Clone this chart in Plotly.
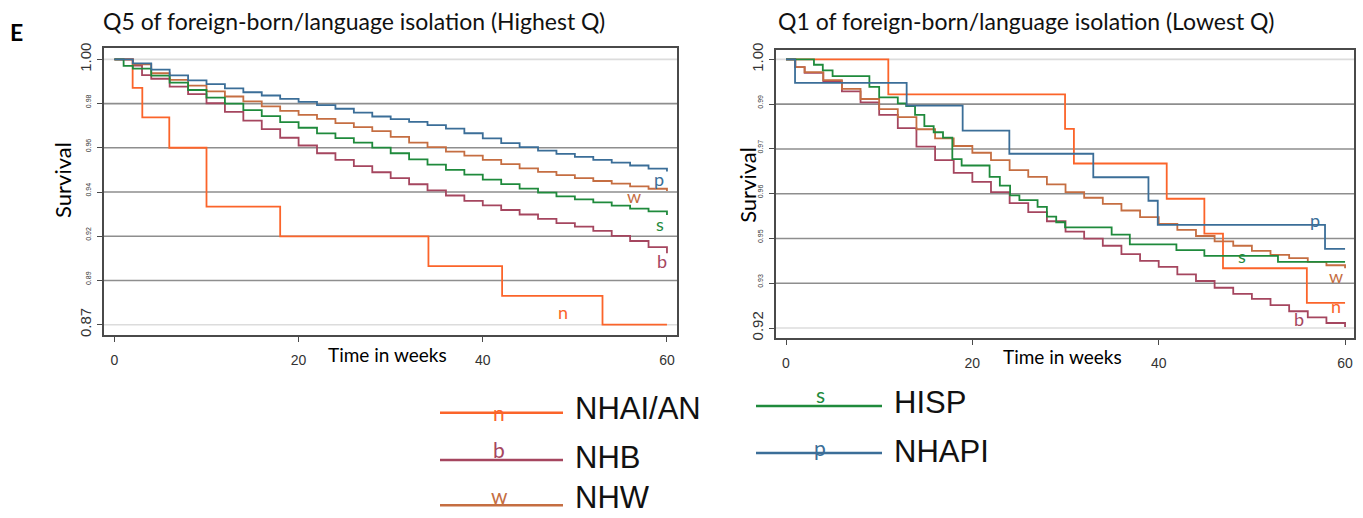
import plotly.graph_objects as go

# ---------------- data ----------------
groups = ["NHAI/AN", "NHB", "NHW", "HISP", "NHAPI"]
letters = ["n", "b", "w", "s", "p"]
colors = ["#fb642a", "#a5465f", "#c56e42", "#1f8a3c", "#3b6e98"]

# Left panel: Q5 (highest quintile)
L_n_t = [0, 1.98, 3.03, 5.96, 10.0, 18.0, 34.1, 42.1, 53.0, 60]
L_n_v = [1.0, 0.986, 0.9716, 0.9567, 0.9278, 0.9133, 0.8987, 0.8841, 0.870, 0.870]

L_b_t = [0, 2, 3, 4, 6, 8, 10, 12, 14, 16, 18, 20, 22, 24, 26, 28, 30, 32, 34, 36,
         38, 40, 42, 44, 46, 48, 50, 52, 54, 56, 58, 60]
L_b_v = [1.0, 0.9970, 0.9923, 0.9905, 0.9866, 0.9830, 0.9785, 0.9743, 0.9700, 0.9658,
         0.9616, 0.9578, 0.9540, 0.9508, 0.9477, 0.9447, 0.9418, 0.9388, 0.9358, 0.9333,
         0.9307, 0.9285, 0.9262, 0.9240, 0.9218, 0.9198, 0.9180, 0.9160, 0.9135, 0.9110,
         0.9080, 0.9050]

L_w_t = [0, 2, 4, 6, 8, 10, 12, 14, 16, 18, 20, 22, 24, 26, 28, 30, 32, 34, 36, 38,
         40, 42, 44, 46, 48, 50, 52, 54, 56, 58, 60]
L_w_v = [1.0, 0.9975, 0.9932, 0.9900, 0.9871, 0.9843, 0.9818, 0.9794, 0.9770, 0.9748,
         0.9728, 0.9708, 0.9688, 0.9668, 0.9648, 0.9620, 0.9592, 0.9570, 0.9548, 0.9528,
         0.9508, 0.9487, 0.9466, 0.9449, 0.9433, 0.9418, 0.9404, 0.9391, 0.9378, 0.9366,
         0.9355]

L_s_t = [0, 1, 2, 4, 6, 8, 10, 12, 14, 16, 18, 20, 22, 24, 26, 28, 30, 32, 34, 36,
         38, 40, 42, 44, 46, 48, 50, 52, 54, 56, 58, 60]
L_s_v = [1.0, 0.9968, 0.9955, 0.9920, 0.9886, 0.9850, 0.9813, 0.9783, 0.9751, 0.9722,
         0.9693, 0.9665, 0.9637, 0.9614, 0.9592, 0.9568, 0.9540, 0.9510, 0.9484, 0.9459,
         0.9435, 0.9411, 0.9389, 0.9367, 0.9347, 0.9329, 0.9314, 0.9299, 0.9283, 0.9269,
         0.9255, 0.9237]

L_p_t = [0, 2, 4, 6, 8, 10, 12, 14, 16, 18, 20, 22, 24, 26, 28, 30, 32, 34, 36, 38,
         40, 42, 44, 46, 48, 50, 52, 54, 56, 58, 60]
L_p_v = [1.0, 0.9980, 0.9950, 0.9922, 0.9897, 0.9879, 0.9858, 0.9839, 0.9823, 0.9806,
         0.9792, 0.9776, 0.9758, 0.9739, 0.9720, 0.9707, 0.9694, 0.9678, 0.9661, 0.9638,
         0.9613, 0.9590, 0.9570, 0.9553, 0.9537, 0.9522, 0.9508, 0.9494, 0.9480, 0.9465,
         0.9451]

# Right panel: Q1 (lowest quintile)
R_n_t = [0, 10.98, 29.95, 30.9, 40.86, 44.9, 46.9, 55.9, 60]
R_n_v = [1.0, 0.9896, 0.9793, 0.9690, 0.9585, 0.9481, 0.9378, 0.9275, 0.9275]

R_b_t = [0, 1, 2, 4, 6, 8, 10, 12, 14, 16, 18, 20, 22, 24, 26, 28, 30, 32, 34, 36,
         38, 40, 42, 44, 46, 48, 50, 52, 54, 56, 58, 60]
R_b_v = [1.0, 0.9977, 0.9960, 0.9935, 0.9905, 0.9872, 0.9835, 0.9795, 0.9740, 0.9700,
         0.9662, 0.9635, 0.9605, 0.9572, 0.9545, 0.9518, 0.9487, 0.9466, 0.9445, 0.9420,
         0.9400, 0.9382, 0.9360, 0.9340, 0.9320, 0.9302, 0.9287, 0.9268, 0.9250, 0.9232,
         0.9215, 0.9203]

R_w_t = [0, 1, 2, 4, 6, 8, 10, 12, 14, 16, 18, 20, 22, 24, 26, 28, 30, 32, 34, 36,
         38, 40, 42, 44, 46, 48, 50, 52, 54, 56, 58, 60]
R_w_v = [1.0, 0.9977, 0.9962, 0.9938, 0.9912, 0.9882, 0.9852, 0.9828, 0.9792, 0.9765,
         0.9742, 0.9722, 0.9700, 0.9670, 0.9650, 0.9628, 0.9605, 0.9588, 0.9570, 0.9550,
         0.9530, 0.9510, 0.9492, 0.9474, 0.9458, 0.9445, 0.9430, 0.9418, 0.9408, 0.9397,
         0.9387, 0.9378]

R_s_t = [0, 3.0, 3.95, 5.0, 8.95, 10.0, 12.0, 12.9, 13.85, 14.85, 15.85, 16.85, 17.85,
         18.85, 21.85, 22.95, 24.05, 25.05, 27.0, 28.0, 29.0, 29.95, 34.95, 36.9, 41.9,
         44.9, 52.8, 60]
R_s_v = [1.0, 0.9984, 0.9967, 0.9950, 0.9918, 0.9887, 0.9869, 0.9861, 0.9835, 0.9801,
         0.9783, 0.9767, 0.9703, 0.9684, 0.9650, 0.9624, 0.9595, 0.9581, 0.9561, 0.9532,
         0.9515, 0.9500, 0.9478, 0.9449, 0.9432, 0.9415, 0.9397, 0.9397]

R_p_t = [0, 0.97, 12.95, 18.96, 23.97, 32.98, 38.9, 39.9, 57.85, 60]
R_p_v = [1.0, 0.9930, 0.9862, 0.9788, 0.9719, 0.9649, 0.9579, 0.9507, 0.9436, 0.9436]

# axis ticks (evenly spaced, labelled as in the picture)
x_ticks = [0, 20, 40, 60]
L_tickvals = [0.87, 0.89167, 0.91333, 0.935, 0.95667, 0.97833, 1.0]
L_ticktext = ["0.87", "0.89", "0.92", "0.94", "0.96", "0.98", "1.00"]
R_tickvals = [0.92, 0.93333, 0.94667, 0.96, 0.97333, 0.98667, 1.0]
R_ticktext = ["0.92", "0.93", "0.95", "0.96", "0.97", "0.99", "1.00"]

titles = ["Q5 of foreign-born/language isolation (Highest Q)",
          "Q1 of foreign-born/language isolation (Lowest Q)"]

# ---------------- figure ----------------
W, H = 1363, 518
FONT = "Lato, 'Open Sans', sans-serif"
ARIAL = "'Liberation Sans Narrow', 'Liberation Sans', Arial, sans-serif"

L_xrange = [-1.13, 61.09]
L_yrange = [0.86485, 1.00544]
R_xrange = [-1.073, 60.96]
R_yrange = [0.91699, 1.00287]

fig = go.Figure()

left = [(L_n_t, L_n_v), (L_b_t, L_b_v), (L_w_t, L_w_v), (L_s_t, L_s_v), (L_p_t, L_p_v)]
right = [(R_n_t, R_n_v), (R_b_t, R_b_v), (R_w_t, R_w_v), (R_s_t, R_s_v), (R_p_t, R_p_v)]

for i, (t, v) in enumerate(left):
    fig.add_trace(go.Scatter(x=t, y=v, mode="lines", line=dict(color=colors[i], width=1.8, shape="hv"),
                             name=groups[i], showlegend=False, xaxis="x", yaxis="y"))
for i, (t, v) in enumerate(right):
    fig.add_trace(go.Scatter(x=t, y=v, mode="lines", line=dict(color=colors[i], width=1.8, shape="hv"),
                             name=groups[i], showlegend=False, xaxis="x2", yaxis="y2"))


def ticklabels(texts):
    out = []
    for k, tx in enumerate(texts):
        if k == 0 or k == len(texts) - 1:
            out.append(tx)
        else:
            out.append('<span style="font-size:7px">' + tx + '</span>')
    return out


def px_x(p):
    return p / W


def px_y(p):
    return 1 - p / H


axis_common = dict(showline=True, linecolor="#4a4a4a", linewidth=1.5, mirror=True,
                   ticks="outside", ticklen=5, tickcolor="#4a4a4a", zeroline=False, showgrid=False)

fig.update_layout(
    width=W, height=H, margin=dict(l=0, r=0, t=0, b=0),
    paper_bgcolor="white", plot_bgcolor="white",
    xaxis=dict(domain=[px_x(104), px_x(677)], range=L_xrange, tickvals=x_ticks,
               tickfont=dict(family=ARIAL, size=14, color="#333"),
               ticklabelstandoff=6, anchor="y", **axis_common),
    yaxis=dict(domain=[px_y(334), px_y(42)], range=L_yrange, tickvals=L_tickvals,
               ticktext=ticklabels(L_ticktext), tickangle=-90,
               tickfont=dict(family=ARIAL, size=15, color="#333"), anchor="x", **axis_common),
    xaxis2=dict(domain=[px_x(776), px_x(1354)], range=R_xrange, tickvals=x_ticks,
                tickfont=dict(family=ARIAL, size=14, color="#333"),
                ticklabelstandoff=6, anchor="y2", **axis_common),
    yaxis2=dict(domain=[px_y(337), px_y(43.5)], range=R_yrange, tickvals=R_tickvals,
                ticktext=ticklabels(R_ticktext), tickangle=-90,
                tickfont=dict(family=ARIAL, size=15, color="#333"), anchor="x2", **axis_common),
)

shapes = []
# horizontal gridlines at every tick (lighter at the axis extremes)
for xr, yr, xrng, tv in (("x", "y", L_xrange, L_tickvals), ("x2", "y2", R_xrange, R_tickvals)):
    for k, val in enumerate(tv):
        light = k == 0 or k == len(tv) - 1
        shapes.append(dict(type="line", xref=xr, yref=yr, x0=xrng[0], x1=xrng[1], y0=val, y1=val,
                           line=dict(color="#dcdcdc" if light else "#8e8e8e", width=1.6),
                           layer="below"))

annotations = []
# panel titles
annotations.append(dict(text=titles[0], xref="paper", yref="paper", x=px_x(101), y=px_y(14),
                        xanchor="left", yanchor="middle", showarrow=False,
                        font=dict(family=FONT, size=23, color="#111")))
annotations.append(dict(text=titles[1], xref="paper", yref="paper", x=px_x(776), y=px_y(14),
                        xanchor="left", yanchor="middle", showarrow=False,
                        font=dict(family=FONT, size=23, color="#111")))
annotations.append(dict(text="<b>E</b>", xref="paper", yref="paper", x=px_x(8), y=px_y(25),
                        xanchor="left", yanchor="middle", showarrow=False,
                        font=dict(family=FONT, size=23, color="#000")))
# axis titles
for xc, yc in ((63, 176), (748, 181)):
    annotations.append(dict(text="Survival", xref="paper", yref="paper", x=px_x(xc), y=px_y(yc),
                            xanchor="center", yanchor="middle", textangle=-90, showarrow=False,
                            font=dict(family=FONT, size=22, color="#000")))
for xc, yc in ((387, 354), (1062, 356)):
    annotations.append(dict(text="Time in weeks", xref="paper", yref="paper", x=px_x(xc), y=px_y(yc),
                            xanchor="center", yanchor="middle", showarrow=False,
                            font=dict(family=FONT, size=19, color="#000")))

# curve-end letters
L_lab = {"p": (59.1, 0.9415), "w": (56.4, 0.9333), "s": (59.2, 0.9193), "b": (59.5, 0.9010),
         "n": (48.7, 0.8760)}
R_lab = {"p": (56.8, 0.9522), "s": (48.9, 0.9415), "w": (59.0, 0.9356), "n": (59.0, 0.9266),
         "b": (55.1, 0.9227)}
for lab, (xa, ya) in ((L_lab, ("x", "y")), (R_lab, ("x2", "y2"))):
    for letter, (lx, ly) in lab.items():
        ci = letters.index(letter)
        annotations.append(dict(text=letter, xref=xa, yref=ya, x=lx, y=ly, showarrow=False,
                                xanchor="center", yanchor="middle",
                                font=dict(family=FONT, size=18, color=colors[ci])))

# custom legend below the panels
leg_pos = [(440, 563, 413), (440, 563, 461), (440, 563, 507), (756, 882, 406), (756, 882, 454)]
text_dy = [-4, -3, -8, -3, -2]
letter_dy = [0, -11, -10, -12, -6]
for i, (x0, x1, yy) in enumerate(leg_pos):
    shapes.append(dict(type="line", xref="paper", yref="paper", x0=px_x(x0), x1=px_x(x1),
                       y0=px_y(yy), y1=px_y(yy), line=dict(color=colors[i], width=2.5)))
    annotations.append(dict(text=letters[i], xref="paper", yref="paper",
                            x=px_x((x0 + x1) / 2 - 2 + (3 if i >= 3 else 0)), y=px_y(yy + letter_dy[i]),
                            xanchor="center", yanchor="middle", showarrow=False,
                            font=dict(family=FONT, size=21, color=colors[i])))
    annotations.append(dict(text=groups[i], xref="paper", yref="paper", x=px_x(x1 + 10), y=px_y(yy + text_dy[i]),
                            xanchor="left", yanchor="middle", showarrow=False,
                            font=dict(family="'Liberation Sans', Arial, sans-serif", size=31, color="#111")))

fig.update_layout(shapes=shapes, annotations=annotations)

fig.write_html("out.html", config={"displayModeBar": False},
               post_script="document.body.style.margin='0';")
